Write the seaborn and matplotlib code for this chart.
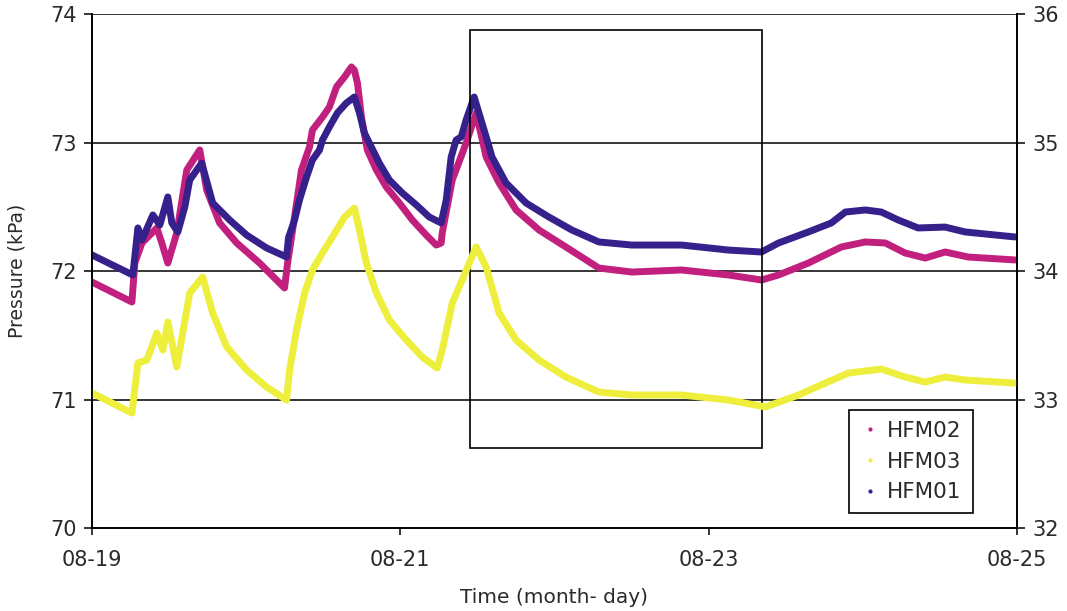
import matplotlib
matplotlib.use("Agg")
import matplotlib.pyplot as plt
from matplotlib.lines import Line2D
from matplotlib.patches import Rectangle
import seaborn as sns
import pandas as pd

# Time axis: days since 08-19 00:00
tick_days = [0, 2, 4, 6]
tick_labels = ["08-19", "08-21", "08-23", "08-25"]

# HFM01 pressure (kPa, left axis)
hfm01_t = [0.000, 0.265, 0.298, 0.324, 0.395, 0.440, 0.492, 0.518, 0.557, 0.602,
           0.634, 0.712, 0.783, 0.893, 1.003, 1.133, 1.262, 1.275, 1.314, 1.346,
           1.392, 1.430, 1.476, 1.495, 1.540, 1.592, 1.650, 1.702, 1.735, 1.767,
           1.812, 1.864, 1.929, 2.013, 2.104, 2.188, 2.265, 2.298, 2.330, 2.362,
           2.395, 2.427, 2.479, 2.557, 2.595, 2.686, 2.816, 2.964, 3.113, 3.288,
           3.502, 3.825, 4.129, 4.343, 4.453, 4.647, 4.796, 4.887, 5.016, 5.120,
           5.230, 5.359, 5.534, 5.663, 5.987]
hfm01_p = [72.125, 71.969, 72.335, 72.241, 72.436, 72.358, 72.576, 72.374, 72.304, 72.498,
           72.708, 72.840, 72.529, 72.397, 72.280, 72.179, 72.109, 72.260, 72.397, 72.553,
           72.732, 72.864, 72.942, 73.019, 73.121, 73.230, 73.307, 73.354, 73.230, 73.074,
           72.965, 72.840, 72.708, 72.607, 72.514, 72.420, 72.374, 72.553, 72.887, 73.019,
           73.043, 73.175, 73.354, 73.043, 72.887, 72.685, 72.529, 72.420, 72.319, 72.226,
           72.202, 72.202, 72.163, 72.148, 72.218, 72.304, 72.374, 72.459, 72.475, 72.459,
           72.397, 72.335, 72.342, 72.304, 72.265]

# HFM02 pressure (kPa, left axis)
hfm02_t = [0.000, 0.259, 0.278, 0.324, 0.421, 0.453, 0.492, 0.550, 0.615, 0.699,
           0.744, 0.828, 0.939, 1.087, 1.249, 1.269, 1.314, 1.359, 1.411, 1.430,
           1.495, 1.540, 1.586, 1.638, 1.683, 1.702, 1.722, 1.748, 1.786, 1.845,
           1.909, 1.994, 2.078, 2.168, 2.233, 2.265, 2.272, 2.337, 2.427, 2.492,
           2.557, 2.641, 2.751, 2.900, 3.074, 3.288, 3.502, 3.825, 4.129, 4.343,
           4.453, 4.647, 4.861, 5.016, 5.146, 5.275, 5.405, 5.534, 5.683, 5.987]
hfm02_p = [71.914, 71.759, 72.062, 72.218, 72.335, 72.218, 72.062, 72.296, 72.786, 72.942,
           72.630, 72.374, 72.218, 72.062, 71.868, 72.062, 72.420, 72.786, 72.965, 73.097,
           73.198, 73.276, 73.432, 73.510, 73.588, 73.564, 73.463, 73.198, 72.942, 72.786,
           72.654, 72.529, 72.397, 72.280, 72.202, 72.218, 72.296, 72.708, 72.996, 73.230,
           72.887, 72.685, 72.475, 72.319, 72.187, 72.023, 71.992, 72.008, 71.969, 71.930,
           71.969, 72.062, 72.187, 72.226, 72.218, 72.140, 72.101, 72.148, 72.109, 72.086]

# HFM03 pressure (kPa, right axis)
hfm03_t = [0.000, 0.259, 0.298, 0.356, 0.421, 0.460, 0.492, 0.550, 0.634, 0.718,
           0.783, 0.874, 1.003, 1.133, 1.262, 1.282, 1.327, 1.379, 1.430, 1.495,
           1.560, 1.638, 1.702, 1.735, 1.780, 1.845, 1.929, 2.039, 2.142, 2.239,
           2.272, 2.337, 2.401, 2.492, 2.557, 2.641, 2.751, 2.900, 3.074, 3.288,
           3.502, 3.825, 4.129, 4.369, 4.583, 4.757, 4.906, 5.120, 5.275, 5.405,
           5.534, 5.663, 5.987]
hfm03_p = [33.051, 32.895, 33.284, 33.307, 33.518, 33.385, 33.603, 33.253, 33.829, 33.953,
           33.673, 33.409, 33.230, 33.097, 32.996, 33.230, 33.541, 33.829, 34.008, 34.140,
           34.265, 34.420, 34.490, 34.319, 34.062, 33.829, 33.619, 33.463, 33.331, 33.245,
           33.385, 33.751, 33.930, 34.187, 34.031, 33.673, 33.463, 33.307, 33.175, 33.058,
           33.035, 33.035, 32.996, 32.942, 33.035, 33.128, 33.206, 33.237, 33.175, 33.136,
           33.175, 33.152, 33.128]

series_names = ["HFM02", "HFM03", "HFM01"]
series_colors = {"HFM01": "#35208c", "HFM02": "#c2207e", "HFM03": "#eeee3c"}

df_left = pd.concat([
    pd.DataFrame({"day": hfm02_t, "pressure": hfm02_p, "well": "HFM02"}),
    pd.DataFrame({"day": hfm01_t, "pressure": hfm01_p, "well": "HFM01"}),
], ignore_index=True)
df_right = pd.DataFrame({"day": hfm03_t, "pressure": hfm03_p, "well": "HFM03"})

sns.set_theme(style="white")
plt.rcParams["font.family"] = ["DejaVu Sans"]

text_color = "#2a2a2a"

fig = plt.figure(figsize=(10.67, 6.11), dpi=100)
ax = fig.add_axes([0.0862, 0.1358, 0.8669, 0.8413])
ax2 = ax.twinx()

sns.lineplot(data=df_left, x="day", y="pressure", hue="well",
             palette=series_colors, linewidth=5, sort=False,
             estimator=None, legend=False, ax=ax)
sns.lineplot(data=df_right, x="day", y="pressure", hue="well",
             palette=series_colors, linewidth=5, sort=False,
             estimator=None, legend=False, ax=ax2)

ax.set_xlim(0, 6)
ax.set_ylim(70, 74)
ax2.set_ylim(32, 36)
ax.set_yticks([70, 71, 72, 73, 74])
ax2.set_yticks([32, 33, 34, 35, 36])
ax.set_xticks(tick_days)
ax.set_xticklabels(tick_labels)

for y in [71, 72, 73, 74]:
    ax.axhline(y, color="black", linewidth=1.1, zorder=0.5)

for a in (ax, ax2):
    for side in ("left", "right", "bottom"):
        a.spines[side].set_visible(True)
        a.spines[side].set_color("black")
        a.spines[side].set_linewidth(1.2)
    a.spines["top"].set_visible(False)
    a.tick_params(axis="both", which="major", direction="out", length=6,
                  width=1.1, color="black", labelsize=15, labelcolor=text_color,
                  pad=5)
ax.tick_params(axis="x", length=5, pad=11)
ax.tick_params(left=True, bottom=True)
ax2.tick_params(right=True)

ax.set_xlabel("Time (month- day)", fontsize=14.5, color=text_color)
ax.set_ylabel("Pressure (kPa)", fontsize=13.5, color=text_color)
ax.xaxis.set_label_coords(0.5, -0.116)
ax.yaxis.set_label_coords(-0.071, 0.5)
ax2.set_ylabel("")

# Highlighted interval
ax.add_patch(Rectangle((2.453, 70.62), 4.343 - 2.453, 73.875 - 70.62,
                       fill=False, edgecolor="black", linewidth=1.2, zorder=3))

handles = [Line2D([], [], linestyle="none", marker="o", markersize=2,
                  color=series_colors[n]) for n in series_names]
leg = ax2.legend(handles, series_names, loc="lower left",
                 bbox_to_anchor=(0.818, 0.029, 0.134, 0.199), mode="expand",
                 fontsize=15.5, frameon=True, fancybox=False, borderpad=0.5,
                 labelspacing=0.5, handlelength=1.0, handletextpad=0.3,
                 borderaxespad=0)
leg.get_frame().set_edgecolor("black")
leg.get_frame().set_linewidth(1.2)
leg.get_frame().set_alpha(1)
for t in leg.get_texts():
    t.set_color(text_color)

fig.savefig("out.png", dpi=100)
